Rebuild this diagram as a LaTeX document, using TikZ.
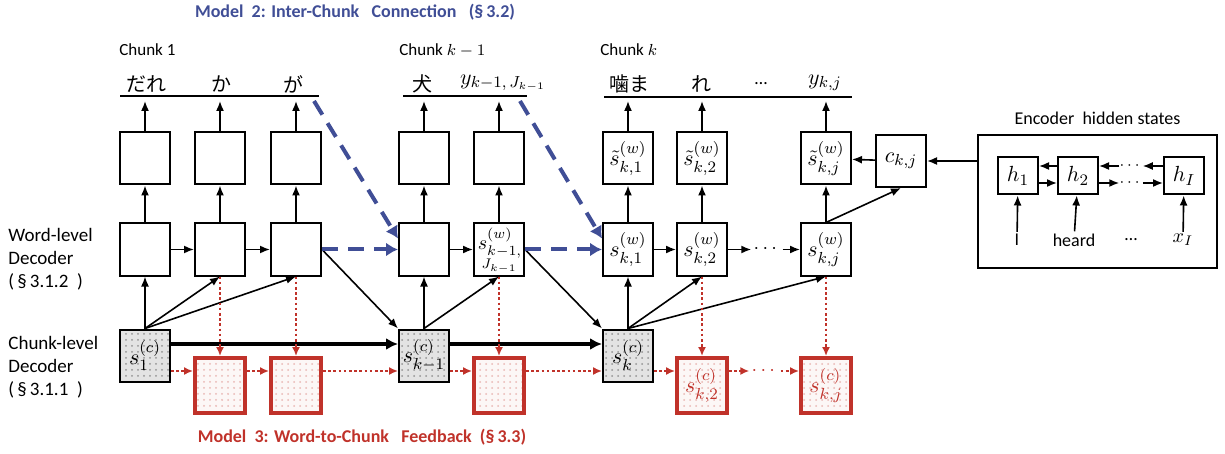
\documentclass[tikz,border=0pt]{standalone}
\usepackage{fontspec}
\setmainfont{Carlito}
\newfontfamily\jpfont{Noto Sans CJK JP}
\usepackage{amsmath}
\usetikzlibrary{arrows.meta}
\usetikzlibrary{calc,positioning,patterns}
\definecolor{mblue}{RGB}{64,78,150}
\definecolor{mred}{RGB}{192,50,42}
\tikzset{%
  >={Latex[width=4pt,length=5pt]},
  % Specifications for style of nodes:
  cellbox/.style = {rectangle, draw=black, line width=1pt,
    minimum width=25pt,
    minimum height=26pt,
    inner sep=0pt, fill=white,
    font=\fontsize{11}{11}\selectfont},
  chunkbox/.style = {cellbox, preaction={fill=gray!22},
    pattern=dots, pattern color=gray!85},
  feedbox/.style = {cellbox, draw=mred, line width=2pt,
    minimum height=27.5pt, preaction={fill=mred!4},
    pattern=dots, pattern color=mred!35, text=mred},
  hbox/.style = {cellbox, minimum width=20pt, minimum height=18.5pt},
  word/.style = {font=\jpfont\fontsize{10}{10}\selectfont, inner sep=1pt},
  side/.style = {align=left, anchor=west, inner sep=0pt,
    font=\fontsize{9.5}{11.5}\selectfont},
  chunklabel/.style = {anchor=west, inner sep=0pt, font=\fontsize{8.5}{10}\selectfont},
}
\tikzset{%
  % Specifications for style of connectors:
  arr/.style = {->, line width=0.8pt},
  chunkarr/.style = {-{Latex[width=6pt,length=6pt]}, line width=2pt},
  inter/.style = {-{Latex[width=7pt,length=6pt]}, draw=mblue,
    line width=2pt, dash pattern=on 8pt off 5pt},
  feed/.style = {-{Latex[width=4pt,length=4.5pt]}, draw=mred,
    line width=0.8pt, dash pattern=on 1.3pt off 1.3pt},
}

\begin{document}
\begin{tikzpicture}[x=0.5pt, y=-0.5pt]
    \useasboundingbox (0,0) rectangle (1225,454);
    % Specification of nodes (position, etc.)
    \node[font=\bfseries\fontsize{9}{10}\selectfont, text=mblue] (title2) at (355,12)
      {Model~~2: Inter-Chunk~~ Connection~~ (§\,3.2)};
    \node[font=\bfseries\fontsize{9}{10}\selectfont, text=mred] (title3) at (362,437)
      {Model~~3: Word-to-Chunk~~ Feedback~~(§\,3.3)};

    \node[side] (wlabel) at (8,259) {Word-level\\Decoder\\(\,§\,3.1.2~~)};
    \node[side] (clabel) at (8,367) {Chunk-level\\Decoder\\(\,§\,3.1.1~~)};

    \node[chunklabel] (ch1) at (119,50) {Chunk 1};
    \node[chunklabel] (ch2) at (399,50) {Chunk $k-1$};
    \node[chunklabel] (ch3) at (600,50) {Chunk $k$};

    % word-level row
    \node[cellbox] (w1) at (145,249.5) {};
    \node[cellbox] (w2) at (220,249.5) {};
    \node[cellbox] (w3) at (296,249.5) {};
    \node[cellbox] (w4) at (424,249.5) {};
    \node[cellbox] (w5) at (499,249.5) {};
    \node[inner sep=0pt, font=\fontsize{10}{10}\selectfont] (w5top) at (500,243) {$s^{(w)}_{k-1,}$};
    \node[inner sep=0pt, font=\fontsize{7}{7}\selectfont] (w5bot) at (499,266) {$J_{k-1}$};
    \node[cellbox] (w6) at (628,249.5) {$s^{(w)}_{k,1}$};
    \node[cellbox] (w7) at (702,249.5) {$s^{(w)}_{k,2}$};
    \node[inner sep=1pt] (wdots) at (767,249.5) {$\cdots$};
    \node[cellbox] (w8) at (826,249.5) {$s^{(w)}_{k,j}$};

    % output row
    \node[cellbox, above=18.5pt of w1] (t1) {};
    \node[cellbox, above=18.5pt of w2] (t2) {};
    \node[cellbox, above=18.5pt of w3] (t3) {};
    \node[cellbox, above=18.5pt of w4] (t4) {};
    \node[cellbox, above=18.5pt of w5] (t5) {};
    \node[cellbox, above=18.5pt of w6] (t6) {$\tilde{s}^{(w)}_{k,1}$};
    \node[cellbox, above=18.5pt of w7] (t7) {$\tilde{s}^{(w)}_{k,2}$};
    \node[cellbox, above=18.5pt of w8] (t8) {$\tilde{s}^{(w)}_{k,j}$};
    \node[cellbox] (ckj) at (901,161) {$c_{k,j}$};

    % output words
    \node[word] (y1) at (146,84) {だれ};
    \node[word] (y2) at (221,84) {か};
    \node[word] (y3) at (293,84) {が};
    \node[word] (y4) at (422,84) {犬};
    \node[inner sep=1pt, font=\fontsize{11}{11}\selectfont] (y5) at (503,83) {$y_{k-1,\,J_{k-1}}$};
    \node[word] (y6) at (629,84) {噛ま};
    \node[word] (y7) at (701,84) {れ};
    \node[inner sep=1pt, font=\fontsize{9}{9}\selectfont] (y8) at (761,84) {…};
    \node[inner sep=1pt, font=\fontsize{11}{11}\selectfont] (y9) at (825,83) {$y_{k,j}$};
    \coordinate (wordline) at (0,101);
    \draw[line width=1.2pt] (120,96) -- (319,96);
    \draw[line width=1.2pt] (403,96) -- (527,96);
    \draw[line width=1.2pt] (604,97) -- (852,97);

    % chunk-level row
    \node[chunkbox] (c1) at (145,355.5) {$s^{(c)}_1$};
    \node[chunkbox] (c2) at (424,355.5) {$s^{(c)}_{k-1}$};
    \node[chunkbox] (c3) at (628,355.5) {$s^{(c)}_k$};

    % feedback row
    \node[feedbox] (r1) at (220,385.5) {};
    \node[feedbox] (r2) at (296,385.5) {};
    \node[feedbox] (r3) at (499,385.5) {};
    \node[feedbox] (r4) at (702,385.5) {$s^{(c)}_{k,2}$};
    \node[inner sep=1pt, text=mred] (rdots) at (765,371) {$\cdots$};
    \node[feedbox] (r5) at (826,385.5) {$s^{(c)}_{k,j}$};
    \coordinate (fbline) at (0,371);

    % encoder
    \node[draw, line width=1pt, minimum width=119.5pt, minimum height=66.5pt,
      inner sep=0pt] (enc) at (1097.5,201.5) {};
    \node[font=\fontsize{9}{10}\selectfont, above=1pt of enc] (enclabel) {Encoder~ hidden states};
    \node[hbox] (h1) at (1018,176) {$h_1$};
    \node[hbox] (h2) at (1078,176) {$h_2$};
    \node[hbox] (hI) at (1184,176) {$h_I$};
    \node[inner sep=0pt, font=\fontsize{8}{8}\selectfont] (udots) at (1131,166) {$\cdots$};
    \node[inner sep=0pt, font=\fontsize{8}{8}\selectfont] (ldots) at (1131,183) {$\cdots$};
    \coordinate (encup) at (0,166);
    \coordinate (encdn) at (0,183);
    \node[font=\fontsize{9}{10}\selectfont, inner sep=1pt] (x1) at (1017,240) {I};
    \node[font=\fontsize{9}{10}\selectfont, inner sep=1pt] (x2) at (1074,240) {heard};
    \node[font=\fontsize{9}{10}\selectfont, inner sep=1pt] (x3) at (1131,240) {…};
    \node[font=\fontsize{10}{10}\selectfont, inner sep=1pt] (xI) at (1183,240) {$x_I$};

    % connectors
    \foreach \i in {1,...,8}{
      \draw[arr] (w\i) -- (t\i);
      \draw[arr] (t\i.north) -- (t\i.north |- wordline);
    }
    \draw[arr] (w1) -- (w2);
    \draw[arr] (w2) -- (w3);
    \draw[arr] (w4) -- (w5);
    \draw[arr] (w6) -- (w7);
    \draw[arr] (w7) -- (wdots);
    \draw[arr] (wdots) -- (w8);

    \draw[arr] (c1.north) -- (w1.south);
    \draw[arr] (c1.north) -- (w2.south);
    \draw[arr] (c1.north) -- (w3.south);
    \draw[arr] (c2.north) -- (w4.south);
    \draw[arr] (c2.north) -- (w5.south);
    \draw[arr] (c3.north) -- (w6.south);
    \draw[arr] (c3.north) -- (w7.south);
    \draw[arr] (c3.north) -- (w8.south);
    \draw[arr] (w3.east) -- (c2.north west);
    \draw[arr] (w5.east) -- (c3.north west);
    \draw[arr] (w8.north) -- (ckj.south);
    \draw[arr] (ckj) -- (t8);
    \draw[arr] (enc.west |- ckj) -- (ckj);

    \draw[chunkarr] ([yshift=5.75pt]c1.east) -- ([yshift=5.75pt]c2.west);
    \draw[chunkarr] ([yshift=5.75pt]c2.east) -- ([yshift=5.75pt]c3.west);

    % inter-chunk connection
    \coordinate (from1) at (314,101);
    \coordinate (from2) at (520,101);
    \draw[inter] (w3) -- (w4);
    \draw[inter] (w5) -- (w6);
    \draw[inter] (from1) -- ([yshift=5.5pt]w4.west);
    \draw[inter] (from2) -- ([yshift=5.5pt]w6.west);

    % word-to-chunk feedback
    \draw[feed] (w2) -- (r1);
    \draw[feed] (w3) -- (r2);
    \draw[feed] (w5) -- (r3);
    \draw[feed] (w7) -- (r4);
    \draw[feed] (w8) -- (r5);
    \draw[feed] (c1.east |- fbline) -- (r1.west |- fbline);
    \draw[feed] (r1.east |- fbline) -- (r2.west |- fbline);
    \draw[feed] (r2.east |- fbline) -- (c2.west |- fbline);
    \draw[feed] (c2.east |- fbline) -- (r3.west |- fbline);
    \draw[feed] (r3.east |- fbline) -- (c3.west |- fbline);
    \draw[feed] (c3.east |- fbline) -- (r4.west |- fbline);
    \draw[feed] (r4.east |- fbline) -- (rdots);
    \draw[feed] (rdots) -- (r5.west |- fbline);

    % encoder connectors
    \draw[arr] (h2.west |- encup) -- (h1.east |- encup);
    \draw[arr] (h1.east |- encdn) -- (h2.west |- encdn);
    \draw[arr] (udots) -- (h2.east |- encup);
    \draw[arr] (hI.west |- encup) -- (udots);
    \draw[arr] (h2.east |- encdn) -- (ldots);
    \draw[arr] (ldots) -- (hI.west |- encdn);
    \draw[arr] (x1) -- (h1);
    \draw[arr] (x2) -- (h2);
    \draw[arr] (xI) -- (hI);
\end{tikzpicture}
\end{document}
